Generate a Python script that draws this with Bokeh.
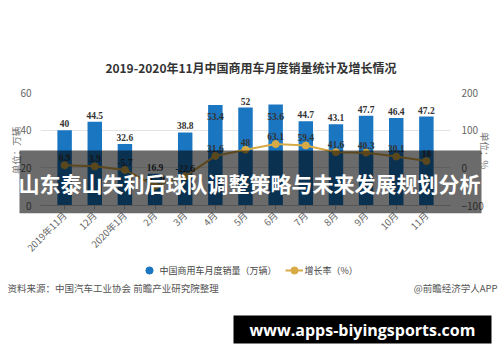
import math
from bokeh.plotting import figure
from bokeh.layouts import column, row
from bokeh.models import (ColumnDataSource, Range1d, LinearAxis, FixedTicker, LabelSet,
                          Label, BoxAnnotation, Legend, LegendItem)
from bokeh.embed import file_html
from bokeh.resources import INLINE

# ---------------- data ----------------
months = ["2019年11月", "12月", "2020年1月", "2月", "3月", "4月", "5月", "6月",
          "7月", "8月", "9月", "10月", "11月"]
sales = [40, 44.5, 32.6, 16.9, 38.8, 53.4, 52, 53.6, 44.7, 43.1, 47.7, 46.4, 47.2]
growth = [6.9, 3.9, -5.7, -47.9, -22.6, 31.6, 48, 63.1, 59.4, 41.6, 40.3, 30.1, 18]
left_ticks = [0, 20, 40, 60]
right_ticks = [-100, 0, 100, 200]

title_text = "2019-2020年11月中国商用车月度销量统计及增长情况"
banner_text = "山东泰山失利后球队调整策略与未来发展规划分析"
site_text = "www.apps-biyingsports.com"
source_text = "资料来源：中国汽车工业协会 前瞻产业研究院整理"
credit_text = "@前瞻经济学人APP"
sales_name = "中国商用车月度销量（万辆）"
growth_name = "增长率（%）"
left_unit = "单位：万辆"
right_unit = "单位：%"

# ---------------- layout ----------------
W, H = 500, 362
FL, FR, FT, FB = 40, 450, 92, 205
FONT = "Noto Sans CJK SC"
BLUE = "#1b76c2"
GOLD = "#d8aa44"
NAN = float("nan")

idx = list(range(len(months)))
src = ColumnDataSource(dict(
    x=idx, sales=sales, growth=growth,
    sales_txt=[f"{v:g}" for v in sales],
    growth_txt=[f"{v:g}" for v in growth],
    sales_off=[-15 if v > 53 else 3 for v in sales],
))

# ---------------- main chart ----------------
p = figure(width=W, height=H, x_range=Range1d(-0.8, 12.8), y_range=Range1d(0, 60),
           output_backend="svg", toolbar_location=None,
           min_border_left=FL, min_border_right=W - FR,
           min_border_top=FT, min_border_bottom=H - FB)
p.outline_line_color = None
p.background_fill_color = "white"
p.border_fill_color = "white"
p.extra_y_ranges = {"rate": Range1d(-100, 200)}

p.vbar(x="x", top="sales", width=0.48, source=src, fill_color=BLUE, line_color=None)
p.line(x="x", y="growth", source=src, y_range_name="rate", line_color=GOLD, line_width=2)
p.scatter(x="x", y="growth", source=src, y_range_name="rate", size=7,
          fill_color=GOLD, line_color=GOLD)

p.xaxis.ticker = FixedTicker(ticks=idx)
p.xaxis.major_label_overrides = {i: m for i, m in enumerate(months)}
p.xaxis.major_label_orientation = math.pi / 4
p.xaxis.major_label_text_font = FONT
p.xaxis.major_label_text_font_size = "9.5px"
p.xaxis.major_label_text_color = "#666666"
p.xaxis.axis_line_color = "#cccccc"
p.xaxis.major_tick_line_color = "#bbbbbb"
p.xaxis.major_tick_out = 4
p.xaxis.major_tick_in = 0
p.xaxis.minor_tick_line_color = None
p.xaxis.major_label_standoff = 4

p.yaxis.ticker = FixedTicker(ticks=left_ticks)
p.yaxis.axis_line_color = None
p.yaxis.major_tick_line_color = None
p.yaxis.minor_tick_line_color = None
p.yaxis.major_label_text_font = FONT
p.yaxis.major_label_text_font_size = "10px"
p.yaxis.major_label_text_color = "#666666"
p.yaxis.major_label_standoff = 3

rax = LinearAxis(y_range_name="rate", ticker=FixedTicker(ticks=right_ticks))
rax.axis_line_color = None
rax.major_tick_line_color = None
rax.minor_tick_line_color = None
rax.major_label_text_font = FONT
rax.major_label_text_font_size = "10px"
rax.major_label_text_color = "#666666"
rax.major_label_standoff = 5
p.add_layout(rax, "right")

p.xgrid.visible = False
p.ygrid.ticker = FixedTicker(ticks=left_ticks)
p.ygrid.grid_line_color = "#e3e3e3"

p.add_layout(LabelSet(x="x", y="sales", text="sales_txt", source=src, y_offset="sales_off",
                      text_align="center", text_baseline="bottom", text_font=FONT,
                      text_font_size="9.5px", text_font_style="bold", text_color="#333333"))
p.add_layout(LabelSet(x="x", y="growth", text="growth_txt", source=src, y_range_name="rate",
                      y_offset=4, text_align="center", text_baseline="bottom", text_font=FONT,
                      text_font_size="9.5px", text_font_style="bold", text_color="#333333"))

# ---------------- overlay canvas (texts, legend, banner) ----------------
o = figure(width=W, height=H, x_range=Range1d(0, W), y_range=Range1d(H, 0),
           output_backend="svg", toolbar_location=None,
           x_axis_type=None, y_axis_type=None, min_border=0)
o.min_border_left = o.min_border_right = o.min_border_top = o.min_border_bottom = 0
o.outline_line_color = None
o.background_fill_alpha = 0
o.border_fill_alpha = 0
o.grid.visible = False

d_bar = o.scatter(x=[NAN], y=[NAN], size=7, fill_color=BLUE, line_color=BLUE)
d_line = o.line(x=[NAN, NAN], y=[NAN, NAN], line_color=GOLD, line_width=2)
d_pt = o.scatter(x=[NAN], y=[NAN], size=7, fill_color=GOLD, line_color=GOLD)
legend = Legend(items=[LegendItem(label=sales_name, renderers=[d_bar]),
                       LegendItem(label=growth_name, renderers=[d_line, d_pt])],
                orientation="horizontal", location=(139.5, H - 279),
                padding=0, margin=0, spacing=8, glyph_width=18, glyph_height=18,
                label_height=18, label_standoff=2, border_line_color=None,
                background_fill_alpha=0, label_text_font=FONT,
                label_text_font_size="9px", label_text_color="#444444")
o.add_layout(legend, "center")

o.add_layout(Label(x=15, y=150, text=left_unit, angle=math.pi / 2, text_align="center",
                   text_baseline="middle", text_font=FONT, text_font_size="9.5px",
                   text_color="#777777"))
o.add_layout(Label(x=484, y=150, text=right_unit, angle=-math.pi / 2, text_align="center",
                   text_baseline="middle", text_font=FONT, text_font_size="9.5px",
                   text_color="#777777"))
o.add_layout(Label(x=250.5, y=67, text=title_text, text_align="center",
                   text_baseline="middle", text_font=FONT, text_font_size="12px",
                   text_font_style="bold", text_color="#333333"))
o.add_layout(Label(x=7, y=287, text=source_text, text_align="left",
                   text_baseline="middle", text_font=FONT, text_font_size="9.5px",
                   text_color="#555555"))
o.add_layout(Label(x=497, y=287, text=credit_text, text_align="right",
                   text_baseline="middle", text_font=FONT, text_font_size="9.5px",
                   text_color="#555555"))

o.add_layout(BoxAnnotation(left=19, right=481, top=150, bottom=212.7,
                           fill_color="black", fill_alpha=0.58, line_alpha=0))
o.add_layout(Label(x=249, y=182, text=banner_text, text_align="center",
                   text_baseline="middle", text_font=FONT, text_font_size="21px",
                   text_font_style="bold", text_color="white"))

o.add_layout(BoxAnnotation(left=233, right=491, top=315, bottom=343,
                           fill_color="black", fill_alpha=1.0, line_alpha=0))
o.add_layout(Label(x=362, y=329.5, text=site_text, text_align="center",
                   text_baseline="middle", text_font="Open Sans", text_font_size="16px",
                   text_font_style="bold", text_color="white"))

top_layer = row(o)
top_layer.margin = (-H, 0, 0, 0)
layout = column(p, top_layer, spacing=0)
open("out.html", "w").write(file_html(layout, INLINE))
